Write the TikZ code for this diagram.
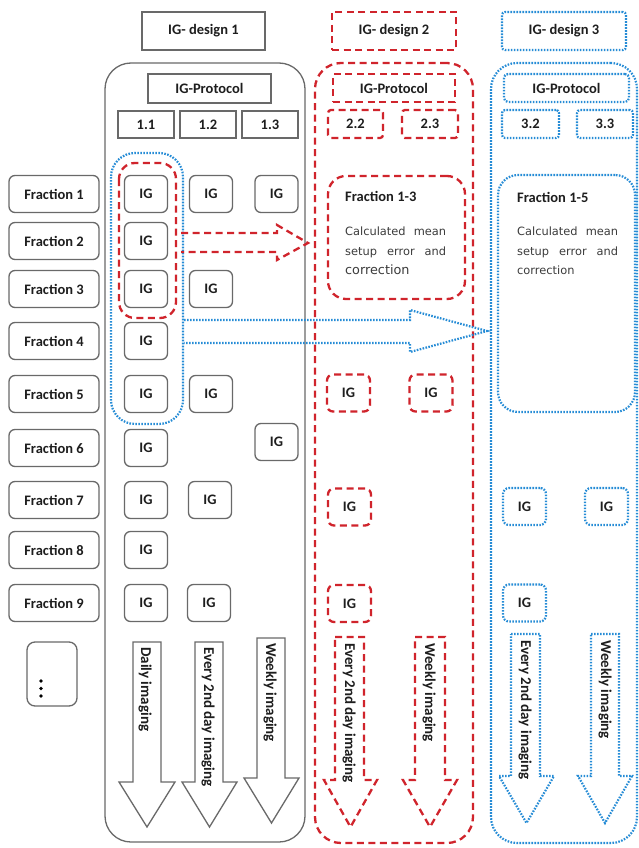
\documentclass[tikz,border=0pt]{standalone}
\usepackage{fontspec}
\setmainfont{Carlito}
\newfontfamily\calcfont{DejaVu Sans}
\definecolor{gl}{RGB}{105,105,105}
\definecolor{rd}{RGB}{208,36,44}
\definecolor{bl}{RGB}{38,140,214}
\definecolor{txt}{RGB}{30,30,30}
\definecolor{ctxt}{RGB}{60,60,60}
\newcommand\blockdown[8]{%
  \draw[#1, fill=white, line join=miter] (#2,#4) -- (#3,#4) -- (#3,#7) -- (#6,#7) -- ({(#5+#6)/2},#8) -- (#5,#7) -- (#2,#7) -- cycle;}
\tikzset{
  lab/.style={font=\fontsize{14.5}{16}\selectfont\bfseries, text=txt},
  solidb/.style={draw=gl, line width=1.3pt},
  reddash/.style={draw=rd, line width=2.3pt, dash pattern=on 7pt off 4.5pt},
  bluedot/.style={draw=bl, line width=2.2pt, dash pattern=on 1.6pt off 1.4pt},
  bx/.style={inner sep=0pt, outer sep=0pt, lab},
  igbox/.style={bx, minimum width=43pt, minimum height=37pt, rounded corners=6pt},
  fracbox/.style={bx, solidb, minimum width=90pt, minimum height=37pt, rounded corners=6pt},
  arrowlab/.style={rotate=-90, anchor=west, font=\fontsize{15}{16}\selectfont\bfseries, text=txt, inner sep=0pt},
  calc/.style={anchor=north west, inner sep=0pt, align=left, text=ctxt, font=\calcfont\fontsize{11.4}{19.5}\selectfont},
}
\begin{document}
\begin{tikzpicture}[x=1pt,y=-1pt]
\useasboundingbox[fill=white] (0,0) rectangle (639,848);

% ---------------- Design 1 ----------------
\node[bx, solidb, minimum width=123pt, minimum height=38pt] (d1) at (203.5,31) {IG- design 1};
\node[solidb, rounded corners=26pt, minimum width=200pt, minimum height=779pt, inner sep=0pt] (big1) at (205,452.5) {};
\node[bx, solidb, minimum width=123pt, minimum height=29pt] (p1) at (209.5,88.5) {IG-Protocol};
\node[bx, solidb, minimum width=56pt, minimum height=27pt] (c11) at (146,124.5) {1.1};
\node[bx, solidb, minimum width=56pt, minimum height=27pt] (c12) at (208,124.5) {1.2};
\node[bx, solidb, minimum width=56pt, minimum height=27pt] (c13) at (270,124.5) {1.3};

% fractions
\node[fracbox] (f1) at (54,194) {Fraction 1};
\node[fracbox] (f2) at (54,241) {Fraction 2};
\node[fracbox] (f3) at (54,289) {Fraction 3};
\node[fracbox] (f4) at (54,341) {Fraction 4};
\node[fracbox] (f5) at (54,394) {Fraction 5};
\node[fracbox] (f6) at (54,448) {Fraction 6};
\node[fracbox] (f7) at (54,500) {Fraction 7};
\node[fracbox] (f8) at (54,550) {Fraction 8};
\node[fracbox] (f9) at (54,603) {Fraction 9};
\node[solidb, rounded corners=8pt, minimum width=50pt, minimum height=64pt, inner sep=0pt] (fdots) at (52,674) {};
\fill[black] (41,681) circle (1.8pt) (41,688.5) circle (1.8pt) (41,696) circle (1.8pt);

% grouping regions
\draw[bluedot, rounded corners=24pt] (111,153) rectangle (183,424);
\draw[reddash, rounded corners=16pt] (119,163) rectangle (176,318);

% IG column 1
\node[igbox, solidb] (a1) at (146,194) {IG};
\node[igbox, solidb] (a2) at (146,241) {IG};
\node[igbox, solidb] (a3) at (146,289) {IG};
\node[igbox, solidb] (a4) at (146,341) {IG};
\node[igbox, solidb] (a5) at (146,394) {IG};
\node[igbox, solidb] (a6) at (146,448) {IG};
\node[igbox, solidb] (a7) at (146,500) {IG};
\node[igbox, solidb] (a8) at (146,550) {IG};
\node[igbox, solidb] (a9) at (146,603) {IG};
% column 2
\node[igbox, solidb] (b1) at (211,194) {IG};
\node[igbox, solidb] (b3) at (211,289) {IG};
\node[igbox, solidb] (b5) at (211,394) {IG};
\node[igbox, solidb] (b7) at (210,500) {IG};
\node[igbox, solidb] (b9) at (209,603) {IG};
% column 3
\node[igbox, solidb] (e1) at (276.5,194) {IG};
\node[igbox, solidb] (e6) at (276.5,442) {IG};

% arrows design 1
\blockdown{solidb}{133}{161}{642}{119}{175}{782}{827}
\node[arrowlab] (t11) at (145,647) {Daily imaging};
\blockdown{solidb}{195}{223}{642}{182}{237}{782}{827}
\node[arrowlab] (t12) at (208,647) {Every 2nd day imaging};
\blockdown{solidb}{257}{285}{638}{244}{299}{778}{823}
\node[arrowlab] (t13) at (270,643) {Weekly imaging};

% ---------------- Design 2 ----------------
\node[bx, reddash, minimum width=124pt, minimum height=38pt] (d2) at (394,31) {IG- design 2};
\node[reddash, rounded corners=26pt, minimum width=158pt, minimum height=780pt, inner sep=0pt] (big2) at (394,453) {};
\node[bx, reddash, minimum width=122pt, minimum height=28pt] (p2) at (394,88) {IG-Protocol};
\node[bx, reddash, rounded corners=3pt, minimum width=55pt, minimum height=28pt] (c22) at (355.5,124) {2.2};
\node[bx, reddash, rounded corners=3pt, minimum width=56pt, minimum height=28pt] (c23) at (430,124) {2.3};
\node[reddash, rounded corners=18pt, minimum width=137pt, minimum height=123pt, inner sep=0pt] (fr13) at (396.5,237.5) {};
\node[lab, anchor=west, inner sep=0pt] (fr13t) at (345,196) {Fraction 1-3};
\node[calc] (fr13c) at (345,227) {\makebox[101pt][s]{Calculated mean}\\\makebox[101pt][s]{setup error and}\\{\fontsize{12.8}{19.5}\selectfont correction}};
\node[igbox, reddash] (r5a) at (348.5,393) {IG};
\node[igbox, reddash] (r5b) at (431,393) {IG};
\node[igbox, reddash] (r7) at (349.5,507) {IG};
\node[igbox, reddash] (r9) at (349.5,603.5) {IG};
\blockdown{reddash}{335}{364}{637}{324}{377}{780}{827}
\node[arrowlab] (t22) at (349,643) {Every 2nd day imaging};
\blockdown{reddash}{415}{445}{637}{403}{457}{780}{827}
\node[arrowlab] (t23) at (429,643) {Weekly imaging};

% ---------------- Design 3 ----------------
\node[bx, bluedot, rounded corners=3pt, minimum width=124pt, minimum height=38pt] (d3) at (564,31) {IG- design 3};
\node[bluedot, rounded corners=26pt, minimum width=146pt, minimum height=780pt, inner sep=0pt] (big3) at (564,453) {};
\node[bx, bluedot, rounded corners=4pt, minimum width=125pt, minimum height=28pt] (p3) at (566.5,88) {IG-Protocol};
\node[bx, bluedot, rounded corners=3pt, minimum width=57pt, minimum height=28pt] (c32) at (530.5,124) {3.2};
\node[bx, bluedot, rounded corners=3pt, minimum width=56pt, minimum height=28pt] (c33) at (605,124) {3.3};
\node[bluedot, rounded corners=20pt, minimum width=137pt, minimum height=237pt, inner sep=0pt] (fr15) at (566.5,293.5) {};
\node[lab, anchor=west, inner sep=0pt] (fr15t) at (517,197) {Fraction 1-5};
\node[calc] (fr15c) at (517,227) {\makebox[101pt][s]{Calculated mean}\\\makebox[101pt][s]{setup error and}\\correction};
\node[igbox, bluedot] (s7a) at (524.5,506.5) {IG};
\node[igbox, bluedot] (s7b) at (606.5,506.5) {IG};
\node[igbox, bluedot] (s9) at (524.5,603) {IG};
\blockdown{bluedot}{511}{540}{634}{499}{554}{776}{823}
\node[arrowlab] (t32) at (525,640) {Every 2nd day imaging};
\blockdown{bluedot}{591}{619}{634}{578}{632}{776}{823}
\node[arrowlab] (t33) at (605,640) {Weekly imaging};

% ---------------- horizontal block arrows ----------------
\draw[reddash, line join=miter] (181,233) -- (277,233) -- (277,225) -- (308,243) -- (277,260) -- (277,252) -- (181,252);
\draw[bluedot, line join=miter] (184,320) -- (410,320) -- (410,310) -- (487,331) -- (410,352) -- (410,343) -- (184,343);
\end{tikzpicture}
\end{document}
